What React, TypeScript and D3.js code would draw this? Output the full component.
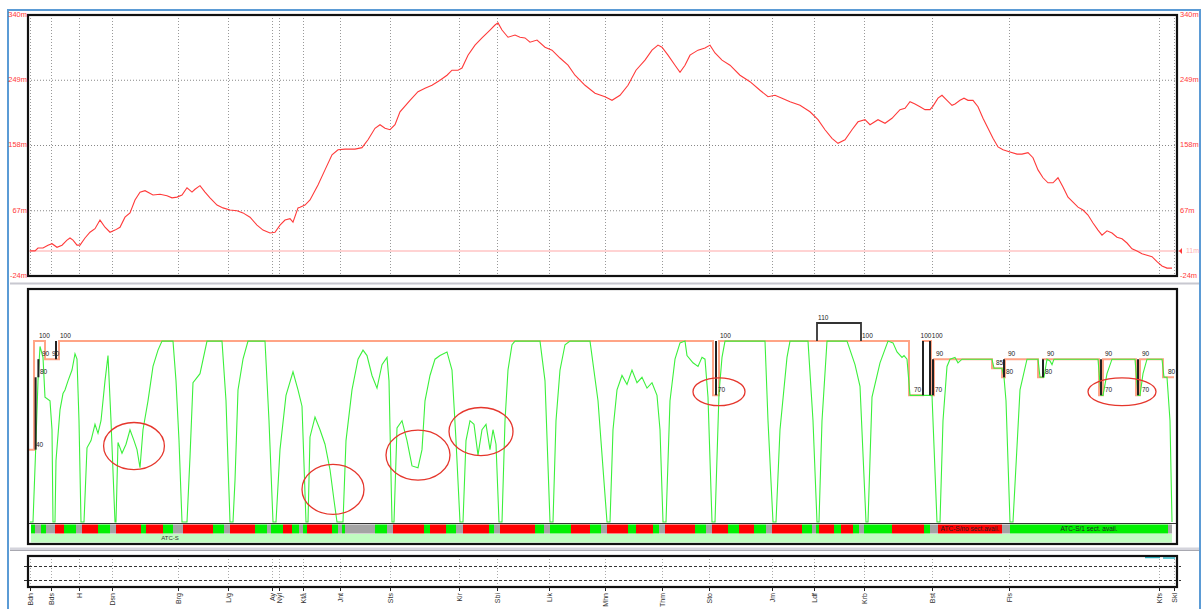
import React from "react";
import * as d3 from "d3";

// ---------- data ----------
const stationNames = ["Bdn","Bds","H","Dsn","Brg","L/g","Ay","Nyl","Ktå","Jnt","Sts","Kir","Sbi","Lik","Mhn","Thm","Sto","Jm","Ldf","Krb","Bst","Fls","Kfs","Skl"];
const stationKm = [0,5.25,12.25,20.5,37,49.4,60.5,62.25,68.25,77.6,90.1,107.25,116.75,129.75,143.75,158,169.75,185.4,196.1,208.4,225.5,244.75,282.25,285.9];

const elevTicks = [340, 249, 158, 67, -24];
const refElev = 11;

const elevKm = [0,1.25,2,3.25,4.5,5.5,6.75,8,9.25,10,10.75,11.75,12.5,13.75,15,16.25,17.5,18.75,20,21.25,22.5,23.75,25,26.25,27.5,28.75,30.75,32.5,34.25,35.5,36.75,38,39.25,40.5,41.25,42.5,43.75,45,46.75,48.25,50,51.75,53.25,55,56.75,58.25,60,61.25,62.5,63.75,65,65.75,67,67.5,68.75,70,72,73.75,75.5,77,78.75,81.25,83,84.5,86.25,87.5,88.75,90,91.25,92.5,95,97,98.75,100.5,102.5,104.25,105.5,107,108,109.5,111.25,113,115,116.25,117,118,119.5,121.25,122.5,123.75,125,126.75,128.75,130.5,132.5,134.5,136.25,138.75,141.25,143.75,145.5,147.5,149.5,151.5,153.75,155.5,157,158,159.5,161.25,162.5,163.75,165,167,168.75,170,171.25,173,175,177.5,180,182.5,184.5,186.25,188,190,192.5,195,197,198.75,200.5,202,203.75,205.5,207,208.75,210,212,213.75,215.5,217.5,218.75,220,221.25,222.5,223.75,225,225.75,227,228,229.25,230.5,231.25,232.5,233.5,234.5,235.75,237,238.25,239.5,240.75,242,243.25,245,246.75,248,249.5,250.75,252,253.25,254.5,255.75,257,258.25,259.5,260.75,262,263.25,264.5,265.75,267,268,269.25,270.5,271.75,273,274.25,275.5,276.75,278,279.25,280.5,281.75,283,284.25,285.5];
const elevM = [11,11,15,15,19,21,16,19,26,29,26,19,19,29,37,42,54,44,37,40,44,58,64,82,93,95,89,90,88,85,86,89,99,93,97,102,93,85,75,71,68,67,64,58,47,40,36,37,47,54,56,51,71,72,75,82,103,124,145,152,153,153,155,166,182,187,182,180,187,205,221,233,238,242,249,256,263,263,266,284,298,308,319,326,329,319,309,312,309,308,302,305,295,291,280,270,256,242,231,226,221,228,242,263,277,291,298,295,284,270,260,270,284,291,294,298,287,277,270,256,247,235,226,228,224,219,214,205,194,180,168,161,166,180,191,194,187,194,189,196,208,210,219,216,212,208,208,213,224,228,221,214,216,221,224,221,221,212,196,182,168,156,152,149,146,146,148,141,124,113,106,106,113,100,86,79,72,68,61,50,40,33,39,36,30,28,22,14,11,7,5,3,-4,-10,-13,-13];

const speedKm = [0,0.75,1.5,2,2.5,3.25,3.75,5,5.5,5.75,
  6.25,6.5,7.5,8.25,8.75,9.5,10.5,11.25,11.75,12.25,12.75,
  13.5,14.25,15.25,16.25,17,17.75,18.75,19.5,20.25,21.25,
  21.5,22,23,24,25,26,26.75,27.5,28.25,29.5,30.75,32,33,35.75,36.5,37.25,38,
  39.25,40,40.75,42.5,44.25,48,49,50,
  50.75,51.25,52,53.25,54.5,58.75,59.75,60.75,
  61.5,62.5,64,65.75,67,68,69,
  69.5,70,71.25,72.5,73.75,75,76,76.75,
  78.25,79,80.5,82,83.25,84.25,85.5,86.75,88,89.25,89.75,90.5,
  91,91.75,93,94.25,95.5,97,98,98.75,100,101.25,102.5,104.25,105.5,106.5,107.5,
  108.25,109,110,111,112,113,114,115,115.75,116.5,117.25,
  118,118.75,119.5,120.5,121.25,127.5,128.75,130,
  130.75,131.5,132.5,133.75,135,140,142,144.25,
  145,145.75,146.75,148,149.25,150.5,151.75,153,154.25,155.5,156.75,157.5,158.25,
  159,160,161.25,162.5,163.75,164.25,165.75,167,168,168.75,169.5,170.5,
  171.25,172.25,173,173.75,183.75,184.5,185.75,
  186.5,187.5,189.25,190,194.5,195.75,196.75,
  197.25,198,199.25,204.25,206.25,207.5,209,
  209.5,210.5,212.5,214.5,215.75,216.75,218,218.5,219.25,220,225.5,226.75,
  227.5,228.25,229.25,230,231.25,232,233,240.5,241,243,243.5,244,245,
  245.75,247.5,249.25,252,252.5,253.5,254.25,255,255.5,256,267,267.75,268.25,269.25,270.5,276.25,277,277.5,278.25,279.25,283,283.5,284.25,285,285.5];
const speedKmh = [0,0,45,78,97,91,69,67,51,0,
  0,34,62,71,73,78,84,93,90,56,0,
  0,41,45,54,49,56,78,92,56,0,
  0,44,38,43,51,45,40,30,51,67,86,95,100,100,78,45,0,
  0,36,77,82,100,100,67,0,
  0,23,73,90,100,100,56,0,
  0,40,70,83,73,64,0,
  0,47,58,51,43,29,12,0,
  0,45,73,90,95,92,81,74,87,91,78,0,
  0,52,56,45,31,30,40,67,81,90,92,94,84,45,0,
  0,45,56,54,37,51,54,40,51,43,0,
  0,56,84,98,100,100,78,0,
  0,56,84,98,100,100,67,0,
  0,51,73,81,76,84,77,80,74,77,70,51,0,
  0,67,90,99,100,92,88,86,91,90,69,0,
  0,71,91,100,100,56,0,
  0,51,91,100,100,56,0,
  0,56,100,100,87,75,0,
  0,69,88,100,99,94,91,92,90,70,70,0,
  0,56,86,90,91,88,90,90,85,85,80,67,0,
  0,73,90,90,80,80,90,89,87,90,90,70,70,82,90,90,70,70,82,90,90,80,80,56,0];

const limitKm = [-0.5,1,3.75,7.25,170.75,172.25,219.75,223.25,225.25,226,240.5,243,243.75,252,253.25,267.25,268.25,276.5,277.5,283.25,286];
const limitKmh = [40,100,90,100,70,100,70,100,70,90,85,80,90,80,90,70,90,70,90,80,80];

const markerKm = [1.4,2.1,6.5,171.5,223.25,225,225.75,243.5,253.25,267.75,277];
const markerLo = [40,80,90,70,70,70,70,80,80,70,70];
const markerHi = [80,90,100,100,100,100,90,90,90,90,90];
const bracketKm = [196.75, 207.75];
const bracketKmh = [100, 110];

const labelKm = [1.25,2.25,2.75,5.25,2,7.25,171.75,172.25,196.75,207.75,220.75,222.4,225.2,226.25,226,241.25,244.25,243.75,254,253.5,268.5,268.5,277.75,277.75,284.25];
const labelKmh = [40,80,90,90,100,100,70,100,110,100,70,100,100,90,70,85,90,80,90,80,90,70,90,70,80];
const labelText = ["40","80","90","90","100","100","70","100","110","100","70","100","100","90","70","85","90","80","90","80","90","70","90","70","80"];

const stripBounds = [0.25,1.25,2.75,4,6.25,8.5,11.5,13,17,20,21.5,27.75,29,33.25,35.75,38.25,45.75,48.5,50,56.25,59.25,60.25,63.25,65.5,67.25,68.25,69.25,75.5,77,78,78.75,86.25,89.25,90.75,98.5,100,104,106.5,108.25,114.75,116,117.5,126.25,128.5,130,135.25,140,142.75,144.25,149.5,151.5,155.75,157.25,158.75,166.25,169,170.5,174.5,177.25,181,184,185.5,193,195.5,196.5,197.25,201,202.75,205.75,207.25,208.5,215.5,223.5,225,227,243,245,284.5,285.5];
const stripTypes = "GYGYRGYRGYRGRGYRGYRGYGRGYGRGYGYGYRGRGYRGYRGYGRGYRGRGYRGYRGRGYRGYGRGRGYGRGYRYGY";
const stripTexts = [
  { from: 227, to: 243, text: "ATC-S/no sect.avail." },
  { from: 245, to: 284.5, text: "ATC-S/1 sect. avail." },
];

const ellipseKm = [26, 75.75, 97, 112.75, 172.25, 273];
const ellipseKmh = [42, 18, 37, 50, 72, 72];
const ellipseRKm = [7.6, 7.75, 8, 8, 6.5, 8.5];
const ellipseRKmh = [13, 13.8, 13.8, 13.3, 7.7, 7.7];

// ---------- layout ----------
const L = 28, R = 1177;
const TOP = { y0: 15, y1: 276 };
const MID = { y0: 289, y1: 544 };
const BOT = { y0: 556, y1: 587 };

const stripColor: Record<string, string> = { G: "#00f000", R: "#ff0000", Y: "#a4a4a4" };

export default function App() {
  const x = d3.scaleLinear().domain([-0.5, 286.75]).range([L, R]);
  const yE = d3.scaleLinear().domain([-24, 340]).range([TOP.y1, TOP.y0]);
  const yS = d3.scaleLinear().domain([0, 110]).range([522, 323]);

  const elevPath = d3.line<number>().x((_, i) => x(elevKm[i])).y((d) => yE(d))(elevM) || "";
  const speedPath = d3.line<number>().x((_, i) => x(speedKm[i])).y((d) => yS(d))(speedKmh) || "";
  const limitPath = d3.line<number>().curve(d3.curveStepAfter).x((_, i) => x(limitKm[i])).y((d) => yS(d))(limitKmh) || "";
  const bracketPath = `M${x(bracketKm[0])},${yS(bracketKmh[0])}V${yS(bracketKmh[1])}H${x(bracketKm[1])}V${yS(bracketKmh[0])}`;

  const font = "'Liberation Sans', Arial, sans-serif";
  const red = "#ff3a3a";

  return (
    <svg width={1204} height={609} style={{ position: "absolute", left: 0, top: 0, display: "block", background: "#fff" }} fontFamily={font}>
      <defs>
        <clipPath id="clipTop"><rect x={L} y={TOP.y0} width={R - L} height={TOP.y1 - TOP.y0} /></clipPath>
        <clipPath id="clipMid"><rect x={L} y={MID.y0} width={R - L} height={MID.y1 - MID.y0} /></clipPath>
      </defs>
      {/* outer blue frame */}
      <path d="M8,609V10H1200V609" fill="none" stroke="#5b9bd5" strokeWidth={2} />

      {/* separators */}
      <line x1={10} x2={1199} y1={283.5} y2={283.5} stroke="#c8c8d0" strokeWidth={2} />
      <rect x={10} y={547.5} width={1189} height={3} fill="#d4d4dc" />
      <line x1={10} x2={1199} y1={550.5} y2={550.5} stroke="#a8a8b0" strokeWidth={1} />

      {/* ---------- TOP PANEL ---------- */}
      <g>
        {elevTicks.slice(1, -1).map((t) => (
          <line key={"hg" + t} x1={L} x2={R} y1={yE(t)} y2={yE(t)} stroke="#888" strokeWidth={1} strokeDasharray="1,2" />
        ))}
        {stationKm.map((k, i) => (
          <line key={"vg" + i} x1={Math.round(x(k)) + 0.5} x2={Math.round(x(k)) + 0.5} y1={TOP.y0} y2={TOP.y1} stroke="#999" strokeWidth={1} strokeDasharray="1,2" />
        ))}
        <line x1={L} x2={R + 3} y1={yE(refElev)} y2={yE(refElev)} stroke="#ffc4c4" strokeWidth={1.5} />
        <path d={elevPath} fill="none" stroke={red} strokeWidth={1.1} clipPath="url(#clipTop)" />
        <rect x={L} y={TOP.y0} width={R - L} height={TOP.y1 - TOP.y0} fill="none" stroke="#111" strokeWidth={2.2} />
        {elevTicks.map((t) => (
          <g key={"tl" + t}>
            <text x={27} y={yE(t)} textAnchor="end" dominantBaseline="middle" fontSize={7.5} fill={red}>{t}m</text>
            <text x={1180} y={yE(t)} textAnchor="start" dominantBaseline="middle" fontSize={7.5} fill={red}>{t}m</text>
          </g>
        ))}
        <path d={`M${R + 2},${yE(refElev)}l3,-3v6z`} fill={red} />
        <text x={1186} y={yE(refElev)} dominantBaseline="middle" fontSize={7} fill="#ffb0b0">{refElev}m</text>
      </g>

      {/* ---------- MIDDLE PANEL ---------- */}
      <g>
        <g clipPath="url(#clipMid)">
          <path d={limitPath} fill="none" stroke="#ffa486" strokeWidth={2} />
          <path d={speedPath} fill="none" stroke="#3cf03c" strokeWidth={1.1} />
          {markerKm.map((k, i) => (
            <line key={"mk" + i} x1={x(k)} x2={x(k)} y1={yS(markerLo[i])} y2={yS(markerHi[i])} stroke="#222" strokeWidth={2} />
          ))}
          <path d={bracketPath} fill="none" stroke="#333" strokeWidth={1.8} />
          {labelKm.map((k, i) => (
            <text key={"lb" + i} x={x(k) + 1} y={yS(labelKmh[i]) - 3} fontSize={6.5} fill="#222">{labelText[i]}</text>
          ))}
          {ellipseKm.map((k, i) => (
            <ellipse key={"el" + i} cx={x(k)} cy={yS(ellipseKmh[i])} rx={x(k + ellipseRKm[i]) - x(k)} ry={yS(0) - yS(ellipseRKmh[i])} fill="none" stroke="#e5362c" strokeWidth={1.3} />
          ))}
        </g>
        {/* strip */}
        <line x1={L} x2={R} y1={523.5} y2={523.5} stroke="#333" strokeWidth={1} />
        {stripBounds.slice(0, -1).map((b, i) => (
          <rect key={"st" + i} x={x(b)} y={524.5} width={x(stripBounds[i + 1]) - x(b)} height={9} fill={stripColor[stripTypes[i]]} />
        ))}
        <rect x={x(stripBounds[0])} y={534} width={x(stripBounds[stripBounds.length - 1]) - x(stripBounds[0])} height={8.5} fill="#c0fcc0" />
        {stripTexts.map((s, i) => (
          <text key={"sx" + i} x={(x(s.from) + x(s.to)) / 2} y={529.5} textAnchor="middle" dominantBaseline="middle" fontSize={6.5} fill="#222">{s.text}</text>
        ))}
        <text x={x(35)} y={538.5} textAnchor="middle" dominantBaseline="middle" fontSize={6} fill="#333">ATC-S</text>
        <rect x={L} y={MID.y0} width={R - L} height={MID.y1 - MID.y0} fill="none" stroke="#111" strokeWidth={2.2} />
      </g>

      {/* ---------- BOTTOM PANEL ---------- */}
      <g>
        {stationKm.map((k, i) => (
          <line key={"bg" + i} x1={Math.round(x(k)) + 0.5} x2={Math.round(x(k)) + 0.5} y1={BOT.y0} y2={BOT.y1} stroke="#aaa" strokeWidth={1} strokeDasharray="1,2" />
        ))}
        {[566, 580].map((yy) => (
          <line key={"bd" + yy} x1={L - 4} x2={R + 4} y1={yy + 0.5} y2={yy + 0.5} stroke="#333" strokeWidth={1} strokeDasharray="3,2" />
        ))}
        <line x1={1145} x2={1160} y1={557.5} y2={557.5} stroke="#2bb8c8" strokeWidth={1.5} />
        <line x1={1163} x2={1175} y1={558} y2={558} stroke="#2bb8c8" strokeWidth={1.5} />
        <rect x={L} y={BOT.y0} width={R - L} height={BOT.y1 - BOT.y0} fill="none" stroke="#111" strokeWidth={2.2} />
        {stationKm.map((k, i) => (
          <g key={"sl" + i}>
            <line x1={Math.round(x(k)) + 0.5} x2={Math.round(x(k)) + 0.5} y1={BOT.y1} y2={BOT.y1 + 4} stroke="#222" strokeWidth={1} />
            <text transform={`translate(${Math.round(x(k)) + 3},${BOT.y1 + 6}) rotate(-90)`} textAnchor="end" fontSize={7} fill="#333">{stationNames[i]}</text>
          </g>
        ))}
      </g>
    </svg>
  );
}
